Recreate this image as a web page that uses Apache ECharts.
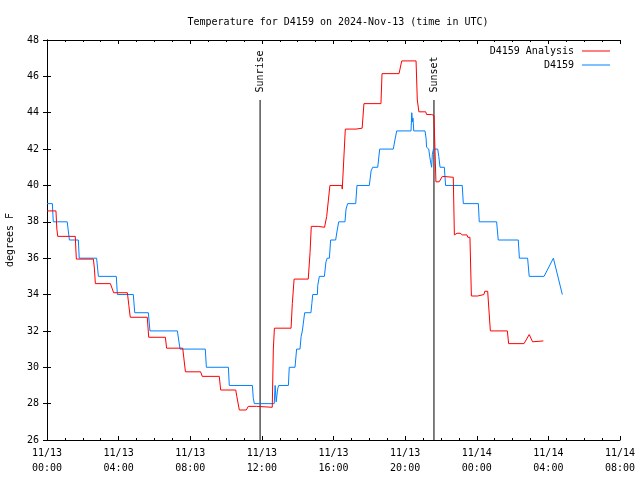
<!DOCTYPE html>
<html>
<head>
<meta charset="utf-8">
<script src="https://cdn.jsdelivr.net/npm/echarts@6/dist/echarts.min.js"></script>
<style>html,body{margin:0;padding:0;background:#fff}#c{width:640px;height:480px}</style>
</head>
<body>
<div id="c"></div>
<script>
// hours since 2024-11-13 00:00 UTC, temperature in °F
var analysisData = [
 [0,38.6],[0.5,38.6],[0.55,37.6],[0.6,37.2],[1.58,37.2],[1.61,36.5],[1.64,35.95],[2.59,35.95],[2.65,35.4],[2.70,34.6],
 [3.54,34.6],[3.65,34.3],[3.72,34.1],[4.49,34.1],[4.57,33.4],[4.65,32.75],[5.6,32.75],[5.68,31.65],[6.61,31.65],[6.68,31.05],
 [7.58,31.05],[7.73,29.75],[8.58,29.75],[8.67,29.5],[9.62,29.5],[9.7,28.75],[10.54,28.75],[10.6,28.4],[10.74,27.65],[11.13,27.65],
 [11.24,27.85],[11.71,27.85],[11.76,27.8],[12.58,27.8],[12.64,31.0],[12.7,32.15],[13.63,32.15],[13.7,33.5],[13.8,34.85],[14.59,34.85],
 [14.69,36.3],[14.76,37.75],[15.15,37.75],[15.2,37.7],[15.5,37.7],[15.62,38.3],[15.8,40.0],[16.46,40.0],[16.49,39.8],[16.51,39.8],
 [16.66,43.1],[17.26,43.1],[17.3,43.15],[17.6,43.15],[17.7,44.5],[18.65,44.5],[18.71,46.15],[19.66,46.15],[19.81,46.85],[20.61,46.85],
 [20.68,44.7],[20.77,44.05],[21.15,44.05],[21.2,43.9],[21.48,43.9],[21.55,43.85],[21.61,43.85],[21.72,40.2],[21.9,40.2],[22.08,40.5],
 [22.69,40.45],[22.75,37.28],[22.9,37.37],[23.07,37.37],[23.2,37.28],[23.45,37.28],[23.5,37.15],[23.62,37.15],[23.7,33.92],[24.05,33.92],
 [24.1,34.0],[24.4,34.0],[24.45,34.18],[24.61,34.18],[24.76,32.0],[25.71,32.0],[25.78,31.3],[26.64,31.3],[26.93,31.8],[27.12,31.4],[27.72,31.45]
];
var observedData = [
 [0,39.0],[0.3,39.0],[0.35,38.0],[1.13,38.0],[1.25,37.0],[1.75,37.0],[1.8,36.0],[2.77,36.0],[2.87,35.0],[3.87,35.0],
 [3.93,34.0],[4.82,34.0],[4.9,33.0],[5.66,33.0],[5.75,32.0],[7.28,32.0],[7.43,31.0],[8.84,31.0],[8.9,30.0],[10.13,30.0],
 [10.18,29.0],[11.47,29.0],[11.52,28.3],[11.58,28.0],[12.69,28.0],[12.74,29.0],[12.8,28.1],[12.88,28.8],[12.94,29.0],[13.48,29.0],
 [13.53,30.0],[13.85,30.0],[13.94,31.0],[14.13,31.0],[14.19,31.68],[14.24,31.68],[14.26,32.0],[14.31,32.0],[14.39,33.0],[14.74,33.0],
 [14.79,33.5],[14.84,34.0],[15.1,34.0],[15.12,34.5],[15.18,34.5],[15.21,35.0],[15.49,35.0],[15.58,35.8],[15.65,36.0],[15.77,36.0],
 [15.84,37.0],[16.12,37.0],[16.2,37.5],[16.29,38.0],[16.64,38.0],[16.7,38.7],[16.79,39.0],[17.24,39.0],[17.31,40.0],[18.0,40.0],
 [18.1,40.8],[18.19,41.0],[18.47,41.0],[18.58,42.0],[19.34,42.0],[19.43,42.5],[19.53,43.0],[20.33,43.0],[20.37,44.0],[20.41,43.5],
 [20.44,43.7],[20.48,43.0],[21.11,43.0],[21.17,42.6],[21.2,42.1],[21.32,42.0],[21.37,41.6],[21.48,41.0],[21.52,41.7],[21.58,42.0],
 [21.82,42.0],[21.88,41.6],[21.95,41.0],[22.19,41.0],[22.26,40.0],[23.19,40.0],[23.25,39.0],[24.09,39.0],[24.14,38.0],[25.11,38.0],
 [25.2,37.0],[26.32,37.0],[26.38,36.0],[26.84,36.0],[26.93,35.0],[27.76,35.0],[28.28,36.0],[28.78,34.0]
];
var seriesNames = ['D4159 Analysis', 'D4159'];
var sunEvents = [['Sunrise', 11.9], ['Sunset', 21.61]];
var sunLineTop = 44.7;
var xTicks = [0, 32, 4];       // min, max, interval (hours)
var yTicks = [26, 48, 2];      // min, max, interval (°F)
var dayLabels = ['11/13', '11/14'];

var FONT = 'DejaVu Sans Mono';
function xLabel(h) {
  var d = Math.floor(h / 24), hh = h % 24;
  return dayLabels[Math.min(d, dayLabels.length - 1)] + '\n' + (hh < 10 ? '0' : '') + hh + ':00';
}
var axLine = {show: true, lineStyle: {color: '#000', width: 1}};
function xAx(pos, lab) {
  return {type: 'value', position: pos, min: xTicks[0], max: xTicks[1], interval: xTicks[2],
    axisLine: axLine, splitLine: {show: false},
    axisTick: {show: true, inside: true, length: 4, lineStyle: {color: '#000'}},
    minorTick: {show: true, splitNumber: 4, length: 2, lineStyle: {color: '#000'}},
    axisLabel: {show: lab, formatter: xLabel, color: '#000', fontFamily: FONT, fontSize: 10, lineHeight: 15, margin: 6}};
}
function yAx(pos, lab) {
  return {type: 'value', position: pos, min: yTicks[0], max: yTicks[1], interval: yTicks[2],
    name: lab ? 'degrees F' : '', nameLocation: 'middle', nameGap: 32, nameRotate: 90,
    nameTextStyle: {color: '#000', fontFamily: FONT, fontSize: 10},
    axisLine: axLine, splitLine: {show: false},
    axisTick: {show: true, inside: true, length: 4, lineStyle: {color: '#000'}},
    axisLabel: {show: lab, color: '#000', fontFamily: FONT, fontSize: 10, margin: 8}};
}
var series = [];
sunEvents.forEach(function (ev) {
  series.push({type: 'line', name: ev[0], silent: true, symbol: 'none', z: 1,
    lineStyle: {color: '#000', width: 1, opacity: 1},
    data: [[ev[1], yTicks[0]], [ev[1], sunLineTop]]});
  series.push({type: 'scatter', name: ev[0] + ' label', silent: true, symbolSize: 1, z: 1,
    itemStyle: {color: 'rgba(0,0,0,0)', opacity: 1},
    label: {show: true, formatter: ev[0], position: 'top', distance: 7, rotate: 90, opacity: 1,
      align: 'left', verticalAlign: 'middle', color: '#000', fontFamily: FONT, fontSize: 10},
    data: [[ev[1], sunLineTop]]});
});
series.push({type: 'line', name: seriesNames[0], data: analysisData, symbol: 'none', z: 3,
  lineStyle: {color: '#ff0000', width: 1}, itemStyle: {color: '#ff0000'}});
series.push({type: 'line', name: seriesNames[1], data: observedData, symbol: 'none', z: 2,
  lineStyle: {color: '#0080ff', width: 1}, itemStyle: {color: '#0080ff'}});

var chart = echarts.init(document.getElementById('c'), null, {renderer: 'canvas'});
chart.setOption({
  animation: false,
  backgroundColor: '#fff',
  title: {text: 'Temperature for D4159 on 2024-Nov-13 (time in UTC)', left: 333, top: 12, textAlign: 'center',
    textStyle: {color: '#000', fontFamily: FONT, fontSize: 10, fontWeight: 'normal'}},
  legend: {data: seriesNames, orient: 'vertical', right: 25, top: 41, align: 'right', itemGap: 4,
    icon: 'rect', itemWidth: 28, itemHeight: 1, selectedMode: false,
    textStyle: {color: '#000', fontFamily: FONT, fontSize: 10, padding: [0, 3, 0, 0]}},
  grid: {left: 47, right: 20, top: 40, bottom: 40, containLabel: false, outerBoundsMode: 'none'},
  xAxis: [xAx('bottom', true), xAx('top', false)],
  yAxis: [yAx('left', true), yAx('right', false)],
  series: series
});
</script>
</body>
</html>
